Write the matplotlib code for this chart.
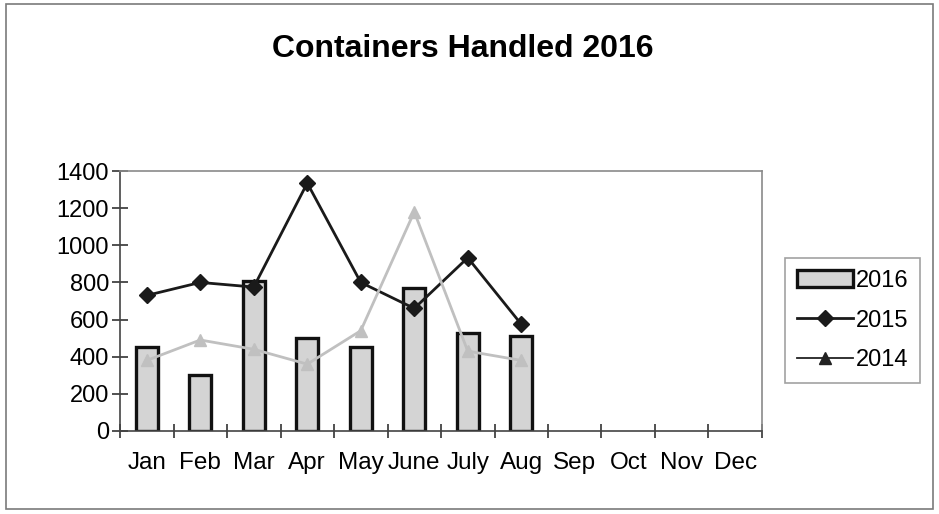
import numpy as np
import matplotlib
matplotlib.use('Agg')
import matplotlib.pyplot as plt
from matplotlib.patches import Rectangle
from matplotlib.lines import Line2D

plt.rcParams['font.family'] = ['Liberation Sans', 'DejaVu Sans']

months = ['Jan', 'Feb', 'Mar', 'Apr', 'May', 'June', 'July', 'Aug',
          'Sep', 'Oct', 'Nov', 'Dec']
vals_2016 = [450, 300, 810, 500, 450, 770, 525, 510]
vals_2015 = [730, 800, 775, 1335, 800, 660, 933, 575]
vals_2014 = [380, 490, 440, 360, 540, 1180, 430, 380]
y_ticks = [0, 200, 400, 600, 800, 1000, 1200, 1400]

fig = plt.figure(figsize=(9.39, 5.14), dpi=100)
fig.patches.append(Rectangle((0.006, 0.01), 0.988, 0.982, transform=fig.transFigure,
                             fill=False, edgecolor='#7a7a7a', lw=1.2))
ax = fig.add_axes([0.1278, 0.1615, 0.6837, 0.5058])

x = np.arange(len(months))
n = len(vals_2016)
h16 = ax.bar(x[:n], vals_2016, width=0.42, color='#d4d4d4', edgecolor='#111111',
             lw=2.4, label='2016', zorder=2)
h15, = ax.plot(x[:n], vals_2015, color='#1a1a1a', lw=2.0, marker='D', ms=8,
               label='2015', zorder=3)
ax.plot(x[:len(vals_2014)], vals_2014, color='#c0c0c0', lw=2.0, marker='^',
        ms=8, label='2014', zorder=4)
# the scanned legend shows the 2014 key in dark ink
h14 = Line2D([], [], color='#222222', lw=1.3, marker='^', ms=9)

ax.set_xlim(-0.5, len(months) - 0.5)
ax.set_ylim(0, 1400)
ax.set_yticks(y_ticks)
ax.set_xticks(x)
ax.set_xticklabels(months)
ax.set_xticks(np.arange(-0.5, len(months)), minor=True)
ax.tick_params(axis='x', which='major', length=0, pad=15, labelsize=17.5)
ax.tick_params(axis='x', which='minor', direction='inout', length=10,
               width=1.2, color='#333333')
ax.tick_params(axis='y', direction='inout', length=12, width=1.2,
               color='#333333', labelsize=17, pad=2)

for s in ('top', 'right'):
    ax.spines[s].set_color('#8a8a8a')
    ax.spines[s].set_linewidth(1.2)
for s in ('left', 'bottom'):
    ax.spines[s].set_color('#444444')
    ax.spines[s].set_linewidth(1.2)

fig.text(0.493, 0.905, 'Containers Handled 2016', ha='center', va='center',
         fontsize=23, fontweight='bold')

leg = fig.legend([h16, h15, h14], ['2016', '2015', '2014'],
                 loc='upper left', bbox_to_anchor=(0.836, 0.498), borderaxespad=0,
                 fontsize=17, frameon=True, fancybox=False, edgecolor='#8a8a8a',
                 handlelength=2.4, handletextpad=0.1, labelspacing=0.75,
                 borderpad=0.5)
leg.get_frame().set_linewidth(1.2)

fig.savefig('out.png', dpi=100)
